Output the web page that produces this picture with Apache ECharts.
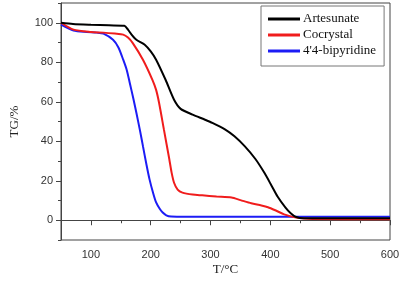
<!DOCTYPE html>
<html>
<head>
<meta charset="utf-8">
<script src="https://cdn.jsdelivr.net/npm/echarts@6/dist/echarts.min.js"></script>
<style>
html, body { margin: 0; padding: 0; background: #fff; }
#chart { width: 413px; height: 282px; }
</style>
</head>
<body>
<div id="chart"></div>
<script>
// TG curves, [T (°C), TG (%)]
var artesunate = [[50,100],[70,99.4],[100,99],[130,98.7],[156,98.5],[162,96.5],[168,94],[176,91.4],[190,88.9],[200,85.5],[209,81.3],[225,71],[239,61],[250,56.4],[270,53.5],[290,51],[303,49.3],[324,46],[340,42.5],[357,37.5],[375,31],[390,24],[402,17.5],[412,12],[425,6.5],[434,3.5],[442,1.8],[456,1],[500,1],[600,1]];
var cocrystal = [[50,100],[71,96.5],[100,95.3],[121,95],[140,94.5],[154,94],[162,92.5],[170,89.7],[187,81.3],[203,71],[209,66],[214,59.4],[222,46],[231,31],[235,24],[239,19],[245,15.5],[253,14],[270,13],[286,12.6],[310,12],[335,11.5],[350,10.2],[368,8.6],[385,7.5],[396,6.6],[410,4.8],[423,3],[445,1.2],[470,0.6],[600,0.5]];
var bipyridine = [[50,99],[71,96],[93,95.3],[110,95],[121,94.5],[137,91.4],[146,87.5],[154,81.3],[160,76],[165,69.5],[171,61.5],[176,54.4],[182,45.5],[187,37.5],[193,28],[198,20.7],[204,13.8],[209,9],[215,5.8],[220,3.9],[226,2.5],[234,1.9],[260,1.8],[600,1.8]];
var names = ['Artesunate', 'Cocrystal', "4'4-bipyridine"];
var colors = ['#000000', '#f01c1c', '#1c1cf5'];
var xMajor = [100, 200, 300, 400, 500, 600];
var yMajor = [0, 20, 40, 60, 80, 100];

var chart = echarts.init(document.getElementById('chart'), null, { renderer: 'canvas' });

var axisCol = '#444';
var option = {
  animation: false,
  backgroundColor: '#fff',
  grid: { left: 57, right: 23, top: 3, bottom: 42, show: true, borderColor: axisCol, borderWidth: 1 },
  legend: {
    orient: 'vertical',
    left: 261,
    top: 6,
    padding: [6, 8, 8, 7],
    itemGap: 2,
    itemWidth: 32,
    itemHeight: 3,
    icon: 'rect',
    borderColor: '#777',
    borderWidth: 1,
    backgroundColor: '#fff',
    textStyle: { fontFamily: 'Liberation Serif', fontSize: 13, lineHeight: 14, color: '#111', padding: [0, 0, 0, -2] },
    data: names
  },
  xAxis: [
    {
      type: 'value', min: 50, max: 600, interval: 50,
      axisLine: { show: true, lineStyle: { color: axisCol } },
      axisTick: { show: true, length: 3, lineStyle: { color: axisCol } },
      axisLabel: { show: false },
      splitLine: { show: false },
      name: 'T/°C', nameLocation: 'middle', nameGap: 23,
      nameTextStyle: { fontFamily: 'Liberation Serif', fontSize: 13, color: '#222' }
    },
    {
      type: 'value', min: 50, max: 600, position: 'bottom',
      axisLine: { show: false },
      axisTick: { show: true, length: 5, customValues: xMajor, lineStyle: { color: axisCol } },
      axisLabel: { show: true, customValues: xMajor, margin: 9, fontFamily: 'Liberation Sans', fontSize: 11, color: '#333' },
      splitLine: { show: false }
    }
  ],
  yAxis: [
    {
      type: 'value', min: -10, max: 110, interval: 10,
      axisLine: { show: true, lineStyle: { color: axisCol } },
      axisTick: { show: true, length: 3, lineStyle: { color: axisCol } },
      axisLabel: { show: false },
      splitLine: { show: false },
      name: 'TG/%', nameLocation: 'middle', nameGap: 40, nameRotate: 90,
      nameTextStyle: { fontFamily: 'Liberation Serif', fontSize: 13, color: '#222' }
    },
    {
      type: 'value', min: -10, max: 110, position: 'left',
      axisLine: { show: false },
      axisTick: { show: true, length: 5, customValues: yMajor, lineStyle: { color: axisCol } },
      axisLabel: { show: true, customValues: yMajor, margin: 8, fontFamily: 'Liberation Sans', fontSize: 11, color: '#333' },
      splitLine: { show: false }
    }
  ],
  series: [artesunate, cocrystal, bipyridine].map(function (d, i) {
    return {
      name: names[i],
      type: 'line',
      data: d,
      smooth: 0.25,
      symbol: 'none',
      xAxisIndex: 0,
      yAxisIndex: 0,
      lineStyle: { color: colors[i], width: 2 },
      itemStyle: { color: colors[i] },
      z: 3 - i
    };
  })
};

chart.setOption(option);
</script>
</body>
</html>
